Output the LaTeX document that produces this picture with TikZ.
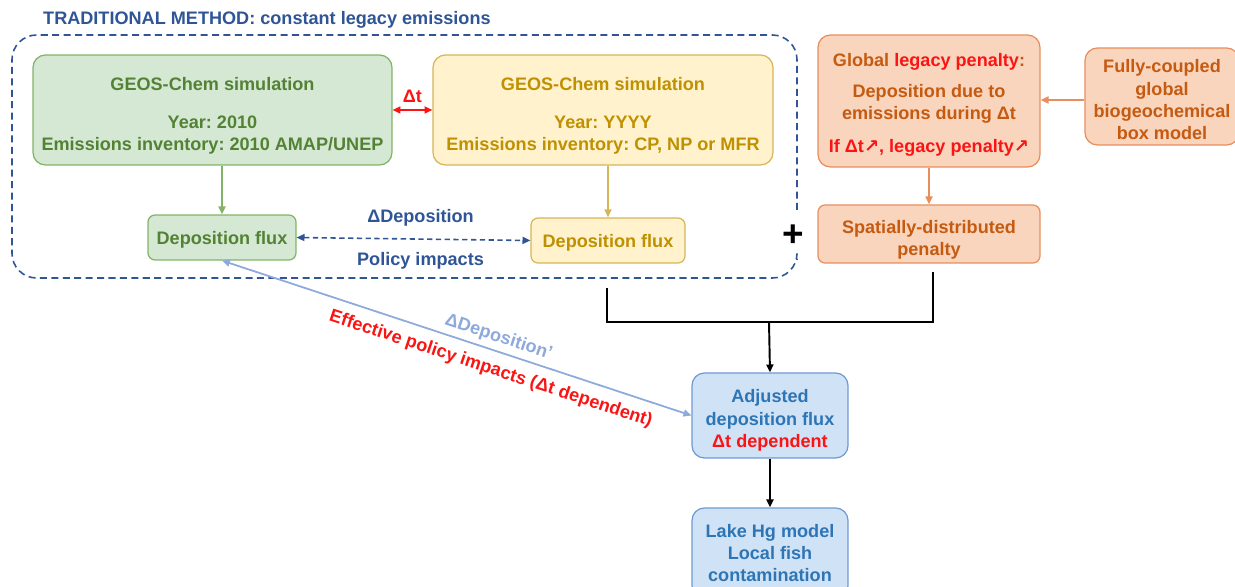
\documentclass[tikz,border=0pt]{standalone}
\usepackage{fontspec}
\setmainfont{Liberation Sans}
\newfontfamily\arrowfont{DejaVu Sans}
\definecolor{grnfill}{RGB}{213,232,212}
\definecolor{grndraw}{RGB}{130,179,102}
\definecolor{grntext}{RGB}{84,130,53}
\definecolor{ylwfill}{RGB}{255,242,204}
\definecolor{ylwdraw}{RGB}{214,182,86}
\definecolor{ylwtext}{RGB}{191,144,0}
\definecolor{orgfill}{RGB}{250,213,190}
\definecolor{orgdraw}{RGB}{232,142,92}
\definecolor{orgtext}{RGB}{197,90,17}
\definecolor{blufill}{RGB}{208,226,245}
\definecolor{bludraw}{RGB}{110,155,210}
\definecolor{blutext}{RGB}{46,117,182}
\definecolor{navy}{RGB}{47,85,151}
\definecolor{lite}{RGB}{142,169,219}
\definecolor{hot}{RGB}{250,20,20}
\usetikzlibrary{arrows.meta,positioning}
\frenchspacing
\newcommand\lift[1]{\rule{0pt}{#1}}

\begin{document}
\begin{tikzpicture}[x=0.02cm,y=-0.02cm,
    font=\fontsize{10.3}{12.6}\selectfont\bfseries,
    box/.style={draw,rounded corners=7pt,line width=0.7pt,align=center,inner sep=0pt},
    smallbox/.style={box,rounded corners=4pt},
    arr/.style={-{Triangle[length=4.5pt,width=4pt]}},
    arrs/.style={{Triangle[length=4.5pt,width=4pt]}-{Triangle[length=4.5pt,width=4pt]}},
    lbl/.style={inner sep=1pt}]
  \useasboundingbox (0,0) rectangle (1235,587);
  \node[anchor=west,text=navy] (title) at (37,20) {TRADITIONAL METHOD: constant legacy emissions};
  \draw[navy,line width=0.9pt,dash pattern=on 4pt off 2.5pt,rounded corners=14pt]
    (797,210) -- (797,35) -- (12,35) -- (12,278) -- (797,278) -- (797,260);
  \node[box,fill=grnfill,draw=grndraw,text=grntext,minimum width=7.18cm,minimum height=2.2cm]
    (simA) at (212.5,110) {\lift{14.5pt}GEOS-Chem simulation\\[9pt]Year: 2010\\Emissions inventory: 2010 AMAP/UNEP};
  \node[box,fill=ylwfill,draw=ylwdraw,text=ylwtext,minimum width=6.8cm,minimum height=2.2cm]
    (simB) at (603,110) {\lift{14.5pt}GEOS-Chem simulation\\[9pt]Year: YYYY\\Emissions inventory: CP, NP or MFR};
  \node[smallbox,fill=grnfill,draw=grndraw,text=grntext,minimum width=2.96cm,minimum height=0.9cm]
    (depA) at (222,237.5) {\lift{9.8pt}Deposition flux};
  \node[smallbox,fill=ylwfill,draw=ylwdraw,text=ylwtext,minimum width=3.08cm,minimum height=0.9cm]
    (depB) at (608,240.5) {\lift{9.8pt}Deposition flux};
  \node[box,fill=orgfill,draw=orgdraw,text=orgtext,minimum width=4.44cm,minimum height=2.64cm]
    (global) at (929,101) {\lift{12pt}Global \textcolor{hot}{legacy penalty}:\\[5pt]Deposition due to\\emissions during Δt\\[6pt]
    \textcolor{hot}{If Δt{\arrowfont ↗}, legacy penalty{\arrowfont ↗}}};
  \node[box,fill=orgfill,draw=orgdraw,text=orgtext,minimum width=3.08cm,minimum height=1.94cm]
    (fully) at (1162,96.5) {\lift{11pt}Fully-coupled\\global\\biogeochemical\\box model};
  \node[smallbox,fill=orgfill,draw=orgdraw,text=orgtext,minimum width=4.44cm,minimum height=1.16cm]
    (spatial) at (929,234) {\lift{14pt}Spatially-distributed\\penalty};
  \node[font=\fontsize{21}{21}\selectfont\bfseries] (plus) at (793,236) {+};
  \node[box,fill=blufill,draw=bludraw,text=blutext,minimum width=3.12cm,minimum height=1.7cm]
    (adj) at (770,415.5) {\lift{13pt}Adjusted\\deposition flux\\\textcolor{hot}{Δt dependent}};
  \node[box,fill=blufill,draw=bludraw,text=blutext,minimum width=3.12cm,minimum height=1.8cm]
    (lake) at (770,553) {Lake Hg model\\Local fish\\contamination};
  \draw[arrs,hot,line width=0.9pt] (simA.east) -- (simB.west)
    node[lbl,midway,above=3pt,text=hot] {Δt};
  \draw[arr,grndraw,line width=0.9pt] (depA.north |- simA.south) -- (depA.north);
  \draw[arr,ylwdraw,line width=0.9pt] (depB.north |- simB.south) -- (depB.north);
  \draw[arrs,navy,line width=0.9pt,dash pattern=on 3pt off 2pt] (depA.east) -- (depB.west)
    node[lbl,pos=0.53,above=6pt,text=navy] {ΔDeposition}
    node[lbl,pos=0.53,below=6pt,text=navy] {Policy impacts};
  \coordinate (feed) at ([yshift=-0.07cm]fully.west);
  \draw[arr,orgdraw,line width=0.9pt] (feed) -- (global.east |- feed);
  \draw[arr,orgdraw,line width=0.9pt] (global.south) -- (spatial.north);
  \coordinate (legL) at (607,288);
  \coordinate (legR) at (933,272);
  \coordinate (join) at (769,322);
  \draw[line width=1.1pt] (legL) |- (join) -| (legR);
  \draw[arr,line width=1.1pt] (join) -- (adj.north);
  \draw[arr,line width=1.1pt] (adj.south) -- (lake.north);
  \draw[arrs,lite,line width=1pt] (depA.south) -- (adj.west)
    node[lbl,pos=0.58,sloped,above=1.5pt,text=lite] {ΔDeposition'}
    node[lbl,pos=0.585,sloped,below=4.5pt,text=hot] {Effective policy impacts (Δt dependent)};
\end{tikzpicture}
\end{document}
